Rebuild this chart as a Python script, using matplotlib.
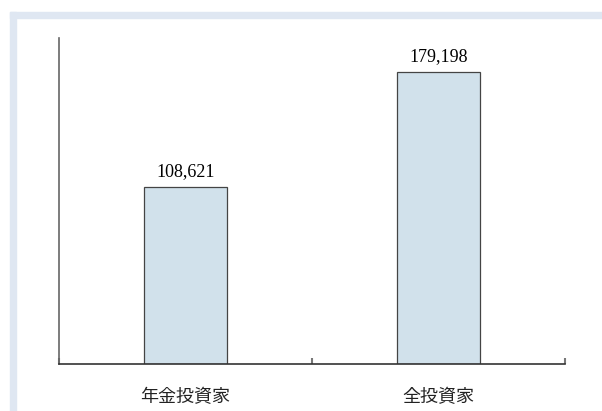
import matplotlib
matplotlib.use("Agg")
import matplotlib.pyplot as plt
from matplotlib.patches import Rectangle

categories = ["年金投資家", "全投資家"]
values = [108621, 179198]

plt.rcParams['font.family'] = ['Noto Sans CJK JP', 'DejaVu Sans']

fig = plt.figure(figsize=(6.02, 4.11), dpi=100)

# L-shaped light blue frame along the top and left edges
fig.patches.append(Rectangle((10 / 602, 0), 6 / 602, 1 - 12 / 411,
                             transform=fig.transFigure, color='#dfe7f2', zorder=0))
fig.patches.append(Rectangle((10 / 602, 1 - 18 / 411), 1, 6 / 411,
                             transform=fig.transFigure, color='#dfe7f2', zorder=0))

ax = fig.add_axes([59 / 602, 47 / 411, 506 / 602, 326 / 411])
ax.patch.set_alpha(0)

x = range(len(categories))
bars = ax.bar(x, values, width=0.33, color='#d1e1eb', edgecolor='#444444', linewidth=0.9)

for b, v in zip(bars, values):
    ax.annotate(f"{v:,}", (b.get_x() + b.get_width() / 2, v),
                xytext=(0, 5), textcoords='offset points',
                ha='center', va='bottom', fontsize=13, family='Liberation Serif')

ax.set_xlim(-0.5, 1.5)
ax.set_ylim(0, 200000)

for s in ['top', 'right']:
    ax.spines[s].set_visible(False)
ax.spines['left'].set_color('#666666')
ax.spines['bottom'].set_color('#333333')
ax.spines['left'].set_linewidth(1.2)
ax.spines['bottom'].set_linewidth(1.2)

ax.set_yticks([])
ax.set_xticks([-0.5, 0.5, 1.5])
ax.set_xticklabels([])
ax.tick_params(axis='x', direction='in', length=4.5, width=1.5, color='#777777')

for i, c in enumerate(categories):
    ax.text(i, -0.103, c, transform=ax.get_xaxis_transform(),
            ha='center', va='center', fontsize=13, color='#222222')

fig.savefig("out.png", dpi=100)
